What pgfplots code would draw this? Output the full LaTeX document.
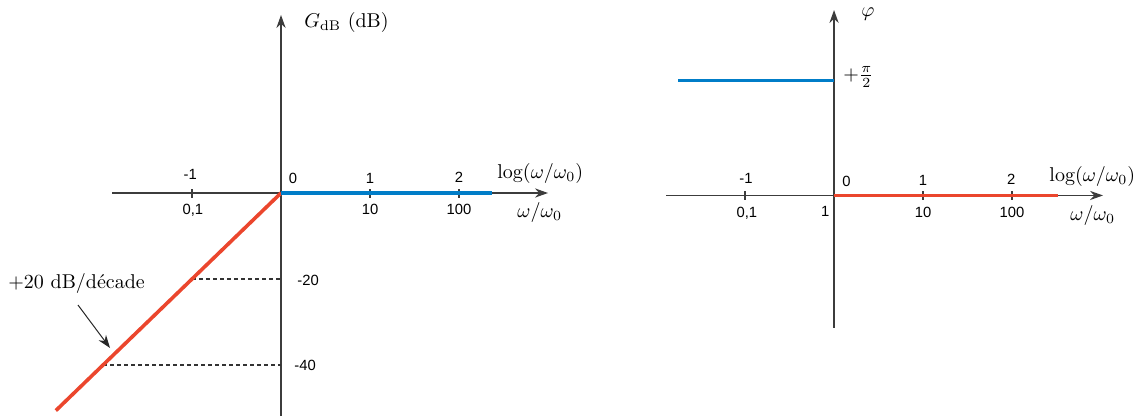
\documentclass[border=0pt]{standalone}
\usepackage{fontspec}
\usepackage{pgfplots}
\pgfplotsset{compat=1.18}
\usetikzlibrary{arrows.meta}
\newfontfamily\hel{Liberation Sans}
\newcommand\tl{\hel\fontsize{7.4}{8.8}\selectfont}
\definecolor{myblue}{RGB}{0,125,200}
\definecolor{myred}{RGB}{235,70,45}
\definecolor{axgray}{RGB}{60,60,60}
\begin{document}
\begin{tikzpicture}
\useasboundingbox (0pt,0pt) rectangle (569pt,208.5pt);
\pgfplotsset{bode/.style={scale only axis, axis lines=middle, clip=false,
  axis line style={axgray, line width=0.7pt, -{Stealth[length=6.5pt,width=4.6pt]}},
  xtick={-1,1,2}, xticklabels={}, ytick=\empty,
  major tick length=4.5pt, tick align=center,
  tick style={axgray, line width=0.6pt},
  xlabel={}, ylabel={}}}
% ---------- Gain ----------
\begin{axis}[bode, anchor=south west, at={(56pt,0.5pt)}, width=218pt, height=200.5pt,
  xmin=-1.899, xmax=3.0, ymin=-51.86, ymax=41.40]
\addplot[black!80, line width=0.55pt, dash pattern=on 2pt off 1.5pt] coordinates {(-1,-20) (0,-20)};
\addplot[black!80, line width=0.55pt, dash pattern=on 2pt off 1.5pt] coordinates {(-2,-40) (0,-40)};
\addplot[myred, line width=1.8pt] coordinates {(-2.53,-50.6) (0,0)};
\addplot[myblue, line width=1.6pt] coordinates {(0,0) (2.37,0)};
\node[anchor=base, font=\tl] at (axis cs:-1.02,3.1) {-1};
\node[anchor=base, font=\tl] at (axis cs:0.135,2.1) {0};
\node[anchor=base, font=\tl] at (axis cs:1.0,2.2) {1};
\node[anchor=base, font=\tl] at (axis cs:2.0,2.4) {2};
\node[anchor=base, font=\tl] at (axis cs:-0.99,-5.1) {0,1};
\node[anchor=base, font=\tl] at (axis cs:1.0,-5.1) {10};
\node[anchor=base, font=\tl] at (axis cs:2.0,-5.1) {100};
\node[anchor=base west, font=\tl, inner sep=0pt] at (axis cs:0.18,-21.6) {-20};
\node[anchor=base west, font=\tl, inner sep=0pt] at (axis cs:0.146,-41.2) {-40};
\node[anchor=base west, inner sep=0pt] at (axis cs:0.258,38.4) {$G_{\mathrm{dB}}$ (dB)};
\node[anchor=base west, inner sep=0pt] at (axis cs:2.427,3.26) {$\log(\omega/\omega_0)$};
\node[anchor=base west, inner sep=0pt] at (axis cs:2.652,-5.81) {$\omega/\omega_0$};
\node[anchor=base west, inner sep=0pt] at (axis cs:-3.067,-22.1) {$+20$ dB/décade};
\draw[black!85, line width=0.5pt, -{Stealth[length=6.5pt,width=4.6pt]}] (axis cs:-2.281,-26.05) -- (axis cs:-1.921,-36.05);
\end{axis}
% ---------- Phase ----------
\begin{axis}[bode, anchor=south west, at={(333pt,44.5pt)}, width=218.5pt, height=159pt,
  xmin=-1.888, xmax=3.022, ymin=-103.9, ymax=145.4]
\addplot[myblue, line width=1.6pt] coordinates {(-1.753,90) (0,90)};
\addplot[myred, line width=1.6pt] coordinates {(0,0) (2.517,0)};
\node[anchor=base, font=\tl] at (axis cs:-0.989,9.6) {-1};
\node[anchor=base, font=\tl] at (axis cs:0.14,6.9) {0};
\node[anchor=base, font=\tl] at (axis cs:1.0,8.2) {1};
\node[anchor=base, font=\tl] at (axis cs:1.99,8.8) {2};
\node[anchor=base, font=\tl] at (axis cs:-0.98,-16.9) {0,1};
\node[anchor=base, font=\tl] at (axis cs:-0.1,-16.6) {1};
\node[anchor=base, font=\tl] at (axis cs:1.0,-16.9) {10};
\node[anchor=base, font=\tl] at (axis cs:2.0,-16.9) {100};
\node[anchor=base west, inner sep=0pt] at (axis cs:2.416,10.6) {$\log(\omega/\omega_0)$};
\node[anchor=base west, inner sep=0pt] at (axis cs:2.652,-19.6) {$\omega/\omega_0$};
\node[anchor=base west, inner sep=0pt] at (axis cs:0.303,140) {$\varphi$};
\node[anchor=base west, inner sep=0pt] at (axis cs:0.101,90) {$+\frac{\pi}{2}$};
\end{axis}
\end{tikzpicture}
\end{document}
